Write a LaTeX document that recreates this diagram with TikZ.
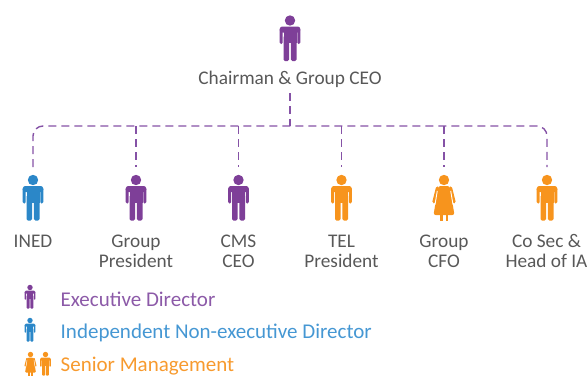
\documentclass[tikz,border=0pt]{standalone}
\usepackage{fontspec}
\setmainfont{Carlito}
\definecolor{exe}{HTML}{7E3F98}
\definecolor{ind}{HTML}{2B87C8}
\definecolor{sen}{HTML}{F7941D}
\definecolor{busc}{HTML}{8552A6}
\definecolor{lblc}{HTML}{585858}
\definecolor{exet}{HTML}{8C5AA8}
\definecolor{indt}{HTML}{4597D3}
\definecolor{sent}{HTML}{F79A2E}
\tikzset{
  figcol/.store in=\figcol, figcol=exe,
  sc/.store in=\sc, sc=1,
  pics/man/.style={code={
    \pgfmathsetmacro\rcA{2.6*\sc}\pgfmathsetmacro\rcB{1.4*\sc}
    \fill[\figcol] (0,-6) circle[radius=5.2];
    \fill[\figcol, rounded corners=\rcA pt] (-10.3,6) -- (-10.3,0) -- (10.3,0) -- (10.3,6) -- cycle;
    \fill[\figcol, rounded corners=\rcB pt] (-10.3,3) -- (-10.3,17.5) -- (-7.3,17.5) -- (-7.3,3);
    \fill[\figcol, rounded corners=\rcB pt] (10.3,3) -- (10.3,17.5) -- (7.3,17.5) -- (7.3,3);
    \fill[\figcol] (-6.5,0) rectangle (6.5,16.5);
    \fill[\figcol, rounded corners=\rcB pt] (-6.5,10) -- (-6.5,34.5) -- (-0.9,34.5) -- (-0.9,10);
    \fill[\figcol, rounded corners=\rcB pt] (0.9,10) -- (0.9,34.5) -- (6.5,34.5) -- (6.5,10);
  }},
  pics/woman/.style={code={
    \pgfmathsetmacro\rcA{2.2*\sc}\pgfmathsetmacro\lwA{3.2*\sc}\pgfmathsetmacro\lwB{0.9*\sc}
    \fill[\figcol] (0,-6) circle[radius=5.2];
    \draw[\figcol, line width=\lwA pt, line cap=round] (-6.6,2) -- (-10.0,15.8);
    \draw[\figcol, line width=\lwA pt, line cap=round] (6.6,2) -- (10.0,15.8);
    \fill[\figcol, rounded corners=\rcA pt] (-10.5,29) -- (-5.6,0) -- (5.6,0) -- (10.5,29) -- cycle;
    \draw[white, line width=\lwB pt] (-6.7,4.8) -- (-9.0,18.5);
    \draw[white, line width=\lwB pt] (6.7,4.8) -- (9.0,18.5);
    \fill[\figcol] (-4.3,28) rectangle (-1.5,34.5);
    \fill[\figcol] (1.5,28) rectangle (4.3,34.5);
  }},
  lbl/.style={font=\fontsize{19.3}{20}\selectfont, text=lblc, align=center, anchor=base, inner sep=0pt},
  leg/.style={font=\fontsize{21}{22}\selectfont, anchor=base west, inner sep=0pt},
  bus/.style={draw=busc, line width=1.4pt, dash pattern=on 8pt off 5pt}
}
\begin{document}
\begin{tikzpicture}[x=1pt,y=-1pt]
\useasboundingbox (0,0) rectangle (587,376);
% figures
\pic[figcol=exe] at (290,26.5) {man};
\pic[figcol=ind] at (33,186) {man};
\pic[figcol=exe] at (136,186) {man};
\pic[figcol=exe] at (238.5,186) {man};
\pic[figcol=sen] at (341.5,186) {man};
\pic[figcol=sen] at (444,186) {woman};
\pic[figcol=sen] at (547,186) {man};
% labels (two-line labels anchored at the baseline of their last line)
\node[lbl] (ceo) at (290,84) {Chairman \& Group CEO};
\node[lbl] (ined) at (33,247.7) {INED};
\node[lbl] (gp) at (136,267.7) {Group\\President};
\node[lbl] (cms) at (238.5,267.7) {CMS\\CEO};
\node[lbl] (tel) at (341.5,267.7) {TEL\\President};
\node[lbl] (cfo) at (444,267.7) {Group\\CFO};
\node[lbl] (cosec) at (546.5,267.7) {Co Sec \&\\Head of IA};
% connectors
\coordinate (ceob) at (290,93);
\coordinate (j) at (290,126);
\coordinate (c1) at (33,167);
\coordinate (c2) at (136,167);
\coordinate (c3) at (238.5,167);
\coordinate (c4) at (341.5,167);
\coordinate (c5) at (444,167);
\coordinate (c6) at (547,167);
\draw[bus] (ceob) -- (j);
\draw[bus, rounded corners=10pt] (c1) -- (c1 |- j) -- (c6 |- j) -- (c6);
\draw[bus] (c2 |- j) -- (c2);
\draw[bus] (c3 |- j) -- (c3);
\draw[bus] (c4 |- j) -- (c4);
\draw[bus] (c5 |- j) -- (c5);
% legend
\pic[figcol=exe, scale=0.52, sc=0.52] at (30,290.6) {man};
\pic[figcol=ind, scale=0.52, sc=0.52] at (30,323.6) {man};
\pic[figcol=sen, scale=0.52, sc=0.52] at (30.5,357.6) {woman};
\pic[figcol=sen, scale=0.52, sc=0.52] at (45.5,357.6) {man};
\node[leg, text=exet] (lexe) at (60.5,306) {Executive Director};
\node[leg, text=indt] (lind) at (60.5,338.3) {Independent Non-executive Director};
\node[leg, text=sent] (lsen) at (60.5,371.7) {Senior Management};
\end{tikzpicture}
\end{document}
